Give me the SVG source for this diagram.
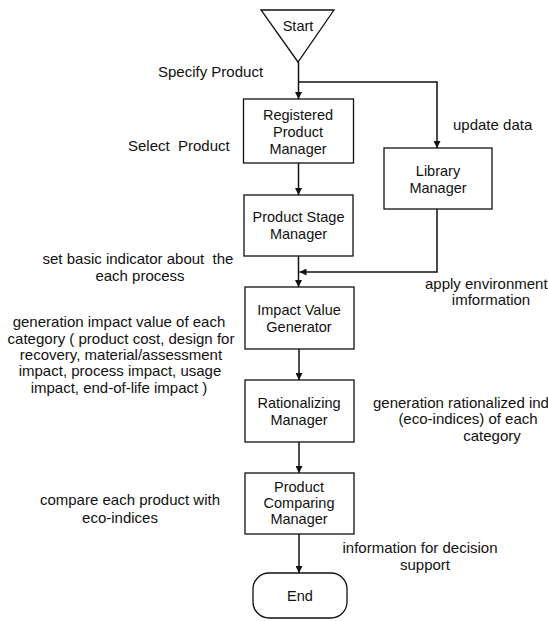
<svg xmlns="http://www.w3.org/2000/svg" width="548" height="621" viewBox="0 0 548 621">
<defs>
<style>
.node{fill:#fff;stroke:#111;stroke-width:1.3}
.nt{font-family:"Liberation Sans",Arial,sans-serif;font-size:14.5px;fill:#111;text-anchor:middle;dominant-baseline:central}
.lb{font-family:"Liberation Sans",Arial,sans-serif;font-size:15px;fill:#111;dominant-baseline:central;white-space:pre}
.c{text-anchor:middle}
.s{text-anchor:start}
.edge{fill:none;stroke:#111;stroke-width:1.5}
</style>
<marker id="ah" viewBox="0 0 10 10" refX="10" refY="5" markerWidth="7" markerHeight="7" markerUnits="userSpaceOnUse" orient="auto">
<path d="M0,0 L10,5 L0,10 z" fill="#111"/>
</marker>
</defs>
<rect width="548" height="621" fill="#fff"/>

<g id="connectors">
<path class="edge" d="M298.5,62 V99" marker-end="url(#ah)"/>
<path class="edge" d="M298.5,82 H437 V148" marker-end="url(#ah)"/>
<path class="edge" d="M298.5,163 V195" marker-end="url(#ah)"/>
<path class="edge" d="M437,209 V272 H299.5" marker-end="url(#ah)"/>
<path class="edge" d="M298.5,256 V287" marker-end="url(#ah)"/>
<path class="edge" d="M299,349 V380" marker-end="url(#ah)"/>
<path class="edge" d="M299,442 V473" marker-end="url(#ah)"/>
<path class="edge" d="M299,534 V573" marker-end="url(#ah)"/>
</g>

<g id="start">
<polygon class="node" points="261,10 334,10 298,62"/>
<text class="nt" x="298" y="26">Start</text>
</g>
<g id="registered-product-manager">
<rect class="node" x="243.5" y="99" width="110" height="64"/>
<text class="nt" x="298" y="115">Registered</text>
<text class="nt" x="298" y="132">Product</text>
<text class="nt" x="298" y="149">Manager</text>
</g>
<g id="library-manager">
<rect class="node" x="384" y="148" width="108" height="61"/>
<text class="nt" x="438" y="171">Library</text>
<text class="nt" x="438" y="188">Manager</text>
</g>
<g id="product-stage-manager">
<rect class="node" x="244" y="195" width="109" height="61"/>
<text class="nt" x="298.5" y="217">Product Stage</text>
<text class="nt" x="298.5" y="234">Manager</text>
</g>
<g id="impact-value-generator">
<rect class="node" x="245" y="287" width="109" height="62"/>
<text class="nt" x="299" y="310">Impact Value</text>
<text class="nt" x="299" y="327">Generator</text>
</g>
<g id="rationalizing-manager">
<rect class="node" x="245" y="380" width="109" height="62"/>
<text class="nt" x="299" y="403">Rationalizing</text>
<text class="nt" x="299" y="420">Manager</text>
</g>
<g id="product-comparing-manager">
<rect class="node" x="245" y="473" width="109" height="61"/>
<text class="nt" x="299" y="487">Product</text>
<text class="nt" x="299" y="503">Comparing</text>
<text class="nt" x="299" y="519">Manager</text>
</g>
<g id="end">
<rect class="node" x="253" y="573" width="94" height="45" rx="16" ry="16"/>
<text class="nt" x="300" y="596">End</text>
</g>

<g id="labels">
<text class="lb s" x="158" y="71">Specify Product</text>
<text class="lb s" x="128" y="145">Select  Product</text>
<text class="lb s" x="453" y="124">update data</text>
<text class="lb c" x="138" y="258">set basic indicator about  the</text>
<text class="lb c" x="140" y="275">each process</text>
<text class="lb s" x="425" y="283">apply environment</text>
<text class="lb c" x="491" y="299">imformation</text>
<text class="lb c" x="119" y="321">generation impact value of each</text>
<text class="lb c" x="121" y="338">category ( product cost, design for</text>
<text class="lb c" x="121" y="354">recovery, material/assessment</text>
<text class="lb c" x="120" y="370">impact, process impact, usage</text>
<text class="lb c" x="119" y="387">impact, end-of-life impact )</text>
<text class="lb s" x="373" y="402">generation rationalized indices</text>
<text class="lb c" x="468" y="418">(eco-indices) of each</text>
<text class="lb c" x="492" y="435">category</text>
<text class="lb c" x="130" y="499">compare each product with</text>
<text class="lb c" x="120" y="517">eco-indices</text>
<text class="lb c" x="420" y="547">information for decision</text>
<text class="lb c" x="425" y="564">support</text>
</g>
</svg>
